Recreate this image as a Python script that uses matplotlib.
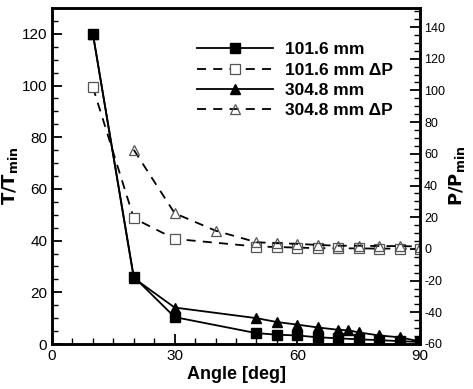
import matplotlib
matplotlib.use("Agg")
import matplotlib.pyplot as plt
from matplotlib.ticker import MultipleLocator

plt.rcParams['font.family'] = ['Liberation Sans', 'DejaVu Sans']
plt.rcParams['axes.unicode_minus'] = False

# 101.6 mm (T/Tmin)
ang_a = [10, 20, 30, 50, 55, 60, 65, 70, 75, 80, 85, 90]
t_a = [120, 26, 10.4, 4.2, 3.6, 3.3, 2.6, 2.2, 1.8, 1.5, 1.1, 0.8]
# 304.8 mm (T/Tmin)
ang_b = [10, 20, 30, 50, 55, 60, 65, 70, 72.5, 75, 80, 85, 90]
t_b = [120, 25.5, 14.1, 10.0, 8.5, 7.5, 6.4, 5.5, 5.3, 4.5, 3.3, 2.6, 1.0]
# 101.6 mm dP (P/Pmin, right axis)
ang_c = [10, 20, 30, 50, 55, 60, 65, 70, 75, 80, 85, 90]
p_c = [102, 19.4, 6.3, 1.5, 1.2, 0.8, 0.5, 0.4, 0.3, 0.2, 0.2, 0.0]
# 304.8 mm dP (P/Pmin, right axis)
ang_d = [20, 30, 40, 50, 55, 60, 65, 70, 75, 80, 85, 90]
p_d = [62.5, 22.5, 11.5, 4.2, 3.6, 3.2, 2.5, 2.0, 2.0, 1.8, 1.8, 1.5]

labels = ["101.6 mm", "101.6 mm \u0394P", "304.8 mm", "304.8 mm \u0394P"]

fig = plt.figure(figsize=(4.73, 3.89), dpi=100)
ax = fig.add_axes([52/473, 1-344/389, (420-52)/473, (344-8)/389])
ax2 = ax.twinx()

l2, = ax.plot(ang_b, t_b, '-', color='black', lw=1.3, marker='^', ms=7, mfc='black', mec='black', zorder=2)
l1, = ax.plot(ang_a, t_a, '-', color='black', lw=1.3, marker='s', ms=7.5, mfc='black', mec='black', zorder=3)
l3, = ax2.plot(ang_c, p_c, '--', color='black', lw=1.3, dashes=(5, 4), marker='s', ms=7.5, mfc='white', mec='#555555', mew=0.9)
l4, = ax2.plot(ang_d, p_d, '--', color='black', lw=1.3, dashes=(5, 4), marker='^', ms=7.5, mfc='none', mec='#555555', mew=0.9)

ax.set_xlim(0, 90)
ax.set_ylim(0, 130)
ax2.set_ylim(-60, 152)

ax.xaxis.set_major_locator(MultipleLocator(30))
ax.xaxis.set_minor_locator(MultipleLocator(5))
ax.yaxis.set_major_locator(MultipleLocator(20))
ax.yaxis.set_minor_locator(MultipleLocator(5))
ax2.yaxis.set_major_locator(MultipleLocator(20))
ax2.yaxis.set_minor_locator(MultipleLocator(5))

ax.tick_params(axis='both', which='major', direction='in', length=7, width=1.3, labelsize=11, top=False)
ax.tick_params(axis='both', which='minor', direction='in', length=4, width=1)
ax.tick_params(axis='y', which='both', right=False)
ax2.tick_params(axis='y', which='major', direction='in', length=7, width=1.3, labelsize=9, pad=3)
ax2.tick_params(axis='y', which='minor', direction='in', length=4, width=1)

for a in (ax, ax2):
    for s in a.spines.values():
        s.set_linewidth(1.8)

ax.set_xlabel("Angle [deg]", fontsize=13, fontweight='bold', labelpad=2)
ax.set_ylabel(r"$\mathbf{T/T_{min}}$", fontsize=13, labelpad=1)
ax2.set_ylabel(r"$\mathbf{P/P_{min}}$", fontsize=13, labelpad=1)

leg = ax.legend([l1, l3, l2, l4], labels, loc='upper right', bbox_to_anchor=(0.97, 0.945),
                frameon=False, handlelength=4.4, handletextpad=0.7, labelspacing=0.3,
                prop={'weight': 'bold', 'size': 12.5, 'family': ['Liberation Sans', 'DejaVu Sans']})

fig.savefig("out.png", dpi=100)
